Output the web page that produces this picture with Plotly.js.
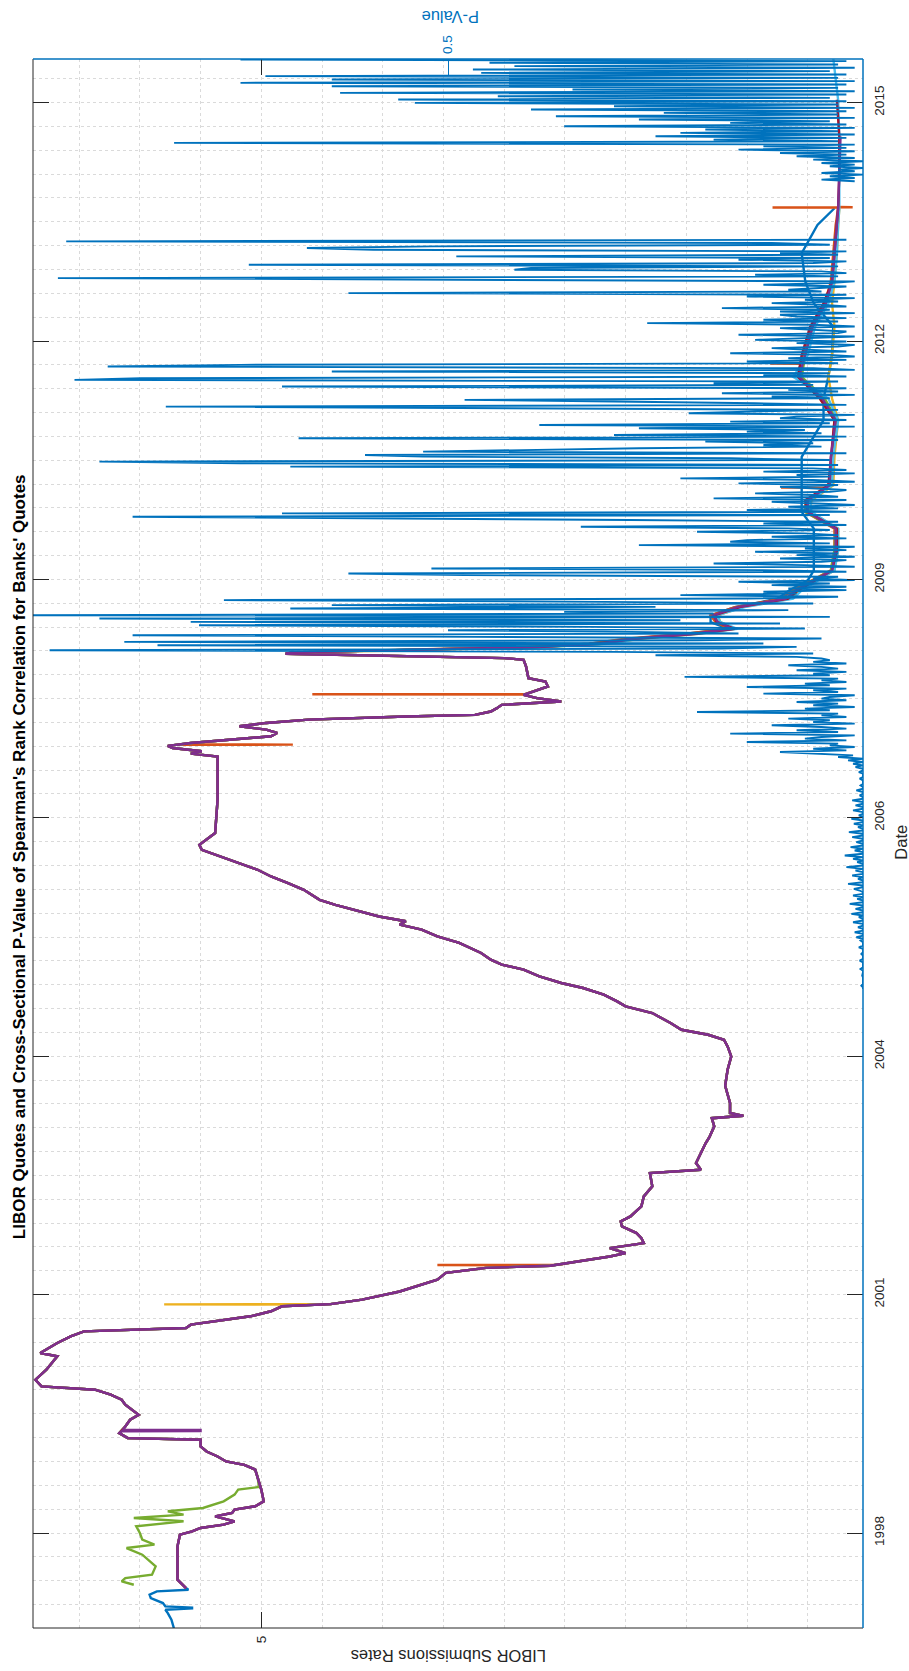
<!DOCTYPE html>
<html><head><meta charset="utf-8">
<script src="https://cdn.plot.ly/plotly-3.0.1.min.js"></script>
<style>html,body{margin:0;padding:0;background:#fff}#chart{width:909px;height:1671px}</style>
</head><body><div id="chart"></div>
<script>
// ---------------- DATA ----------------
const titleText = "LIBOR Quotes and Cross-Sectional P-Value of Spearman's Rank Correlation for Banks' Quotes";
const rateTickValues = [5];
const rateTickLabels = ['5'];
const pTickValues = [0.5];
const pTickLabels = ['0.5'];
const dateTickDatenums = [730000, 731000, 732000, 733000, 734000, 735000, 736000];
const dateTickLabels = ['1998', '2001', '2004', '2006', '2009', '2012', '2015'];
const dateRangeDatenums = [729601.5, 736183];
const rateRange = [6.88, 0.045];
const pRange = [1, 0];

// bank 1 (blue) first months
const blueEarlyDates = ['1997-07-30','1997-09-03','1997-10-01','1997-10-15','1997-10-21','1997-10-24','1997-10-29','1997-11-12','1997-12-03','1997-12-17','1997-12-31','1998-01-07'];
const blueEarlyRates = [5.72,5.74,5.77,5.79,5.57,5.57,5.79,5.81,5.91,5.92,5.86,5.60];

// bank 5 (green) deviating quotes 1998
const greenEarlyDates = ['1998-01-28','1998-02-11','1998-02-25','1998-03-11','1998-04-15','1998-05-13','1998-06-03','1998-07-01','1998-07-15','1998-08-05','1998-09-02','1998-09-30','1998-10-21','1998-11-04','1998-11-18','1998-12-02','1998-12-16','1999-01-13','1999-02-10','1999-03-03','1999-03-14'];
const greenEarlyRates = [6.05,6.15,6.12,5.90,5.87,5.93,5.98,6.11,5.88,5.98,6.00,6.03,5.64,6.05,5.64,5.77,5.48,5.31,5.22,5.19,5.02];

// common quotes 1998
const core1Dates = ['1998-01-14','1998-02-18','1998-04-15','1998-07-08','1998-08-26','1998-09-09','1998-09-23','1998-10-07','1998-10-21','1998-11-11','1998-11-25','1998-12-09','1998-12-23','1999-01-13','1999-03-03'];
const core1Rates = [5.62,5.69,5.69,5.69,5.67,5.57,5.50,5.31,5.22,5.38,5.24,5.22,5.05,4.98,5.00];

// common quotes 1999 - Oct 2008
const core2Dates = ['1999-04-27','1999-05-26','1999-06-15','1999-06-29','1999-07-20','1999-08-10','1999-08-31','1999-09-28','1999-10-05','1999-10-26','1999-11-23','1999-12-21',
'2000-01-11','2000-01-25','2000-02-22','2000-03-14','2000-04-04','2000-04-25','2000-05-09','2000-06-06','2000-07-18','2000-09-12','2000-09-26','2000-11-07','2000-12-05','2000-12-26',
'2001-01-09','2001-01-23','2001-02-06','2001-02-27','2001-03-20','2001-04-10','2001-04-19','2001-05-08','2001-06-11','2001-07-05','2001-07-31','2001-08-28','2001-09-18','2001-09-27','2001-10-15','2001-11-05','2001-11-19','2001-12-10','2001-12-31',
'2002-01-21','2002-02-11','2002-03-11','2002-04-01','2002-04-22','2002-06-03','2002-07-15','2002-08-26','2002-10-21','2002-11-04','2002-12-02',
'2003-01-13','2003-02-24','2003-03-20','2003-05-05','2003-06-08','2003-06-18','2003-06-30','2003-08-11','2003-10-22','2003-12-28',
'2004-02-22','2004-04-04','2004-05-02','2004-05-23','2004-06-13','2004-07-11','2004-08-22','2004-09-19','2004-10-10','2004-11-07','2004-12-05','2004-12-26',
'2005-01-23','2005-02-20','2005-03-13','2005-04-03','2005-05-01','2005-06-12','2005-07-10','2005-08-07','2005-08-28','2005-09-11','2005-10-01','2005-10-29','2005-11-19','2005-12-10',
'2006-01-21','2006-02-18','2006-03-18','2006-04-15','2006-05-13','2006-06-10','2006-07-08','2006-07-29','2006-08-19','2006-09-16',
'2007-02-03','2007-06-23','2007-08-03','2007-08-15','2007-08-25','2007-09-08','2007-09-17','2007-09-29','2007-10-13','2007-10-27','2007-11-10','2007-11-24','2007-12-08','2007-12-22',
'2008-01-05','2008-01-12','2008-01-18','2008-01-25','2008-02-08','2008-02-22','2008-03-07','2008-03-21','2008-04-04','2008-04-18','2008-05-23','2008-06-13','2008-06-27','2008-08-15','2008-09-12','2008-09-19','2008-09-29','2008-10-07','2008-10-13'];
const core2Rates = [5.03,5.05,5.14,5.29,5.36,5.45,5.50,5.50,6.10,6.17,6.12,6.08,
6.01,6.05,6.12,6.15,6.24,6.37,6.81,6.86,6.77,6.68,6.82,6.68,6.57,6.46,
5.62,5.58,5.40,5.09,4.92,4.83,4.43,4.17,3.86,3.72,3.55,3.48,3.15,2.62,2.40,2.13,2.00,2.13,1.85,
1.87,1.91,2.03,2.04,1.96,1.87,1.85,1.78,1.80,1.38,1.42,
1.38,1.34,1.31,1.27,1.29,1.03,1.14,1.14,1.18,1.16,
1.13,1.16,1.19,1.32,1.54,1.63,1.78,2.00,2.07,2.18,2.35,2.53,
2.71,2.84,3.02,3.11,3.19,3.37,3.55,3.68,3.86,3.81,4.03,4.25,4.39,4.52,
4.65,4.78,4.92,5.03,5.18,5.34,5.49,5.51,5.45,5.38,
5.36,5.36,5.36,5.58,5.49,5.73,5.77,5.58,5.22,4.92,4.87,4.96,5.18,4.96,
4.61,4.25,3.81,3.24,3.11,3.06,3.02,2.53,2.73,2.84,2.64,2.66,2.80,2.82,2.84,3.00,4.00,4.80,4.75];

// single-day outlying quotes
const purpleSpikeDates = ['1999-11-03','1999-11-04','1999-11-08','1999-11-09'];
const purpleSpikeRates = [6.15,5.50,5.50,6.14];
const yellowSpikeDates = ['2001-04-17','2001-04-18'];
const yellowSpikeRates = [4.80,5.80];
const orangeSpikeDates = ['2001-09-29','2001-09-30','2001-10-01','2007-09-21','2007-09-22','2007-09-23','2008-04-19','2008-04-20','2008-04-21','2010-09-03','2010-09-04','2010-09-05','2012-02-05','2012-02-06','2012-02-07','2013-11-21','2013-11-22','2013-11-23','2013-11-24'];
const orangeSpikeRates = [2.60,3.55,2.55,5.70,4.74,5.65,2.84,4.58,2.83,0.33,0.72,0.33,0.56,0.81,0.56,0.25,0.79,0.13,0.25];

// post-Lehman quotes, one array per bank
const postDates = ['2008-10-21','2008-11-04','2008-11-18','2008-12-09','2008-12-30','2009-01-20','2009-02-17','2009-03-17','2009-04-21','2009-05-26','2009-06-30','2009-08-11','2009-09-22','2009-12-15','2010-03-16','2010-05-25','2010-07-13','2010-09-14','2011-01-11','2011-06-14','2011-09-13','2011-12-13','2012-03-13','2012-07-10','2012-10-16','2013-01-15','2013-05-14','2013-09-10','2013-11-19','2014-04-15','2014-09-16','2015-02-17','2015-08-11'];
const postBlue      = [4.00,2.80,2.30,1.95,1.50,1.15,1.30,1.30,1.10,0.75,0.65,0.50,0.45,0.45,0.45,0.55,0.55,0.55,0.55,0.37,0.37,0.33,0.30,0.29,0.45,0.52,0.55,0.42,0.28,null,null,null,null];
const postOrange    = [4.10,2.90,2.30,2.00,1.50,1.15,1.26,1.30,1.10,0.72,0.62,0.46,0.31,0.28,0.28,0.52,0.52,0.33,0.30,0.28,0.40,0.58,0.54,0.47,0.36,0.31,0.29,0.27,0.25,null,null,null,null];
const postYellow    = [3.85,2.68,2.18,1.88,1.40,1.10,1.22,1.24,1.04,0.64,0.57,0.43,0.28,0.25,0.25,0.48,0.47,0.29,0.28,0.25,0.30,0.33,0.30,0.28,0.30,0.28,0.26,0.25,0.24,null,null,null,null];
const postPurple    = [3.95,2.75,2.20,1.95,1.45,1.12,1.24,1.28,1.08,0.68,0.60,0.45,0.30,0.27,0.27,0.50,0.50,0.32,0.31,0.27,0.38,0.57,0.52,0.46,0.35,0.30,0.28,0.26,0.25,0.24,0.23,null,null];
const postGreen     = [3.92,2.74,2.20,1.93,1.44,1.12,1.24,1.27,1.07,0.67,0.60,0.45,0.31,0.28,0.27,0.52,0.51,0.31,0.30,0.26,0.36,0.55,0.52,0.46,0.35,0.30,0.28,0.26,null,null,null,null,null];
const postLightBlue = [3.90,2.70,2.15,1.90,1.40,1.08,1.22,1.25,1.02,0.62,0.55,0.42,0.28,0.25,0.25,0.47,0.48,0.30,0.29,0.25,0.33,0.62,0.50,0.44,0.33,0.28,0.26,0.25,0.24,0.24,0.24,0.25,0.29];
const postDarkRed   = [3.95,2.72,2.25,1.92,1.42,1.10,1.25,1.27,1.06,0.66,0.58,0.44,0.30,0.26,0.26,0.50,0.52,0.33,0.31,0.28,0.40,0.58,0.55,0.48,0.37,0.30,0.28,0.26,0.25,0.24,0.24,0.26,null];

// cross-sectional p-value, weekly from pStart
const pStart = '2004-12-01';
const pStepDays = 7;
const pvA = [0,0,0.002,0,0,0,0,0,0.001,0,
0,0,0.003,0,0,0,0,0.004,0,0,
0,0.002,0,0,0,0.005,0,0,0,0.003,
0,0.008,0,0,0.01,0,0,0.006,0,0,
0.012,0,0,0.005,0,0.014,0,0,0.009,0,
0,0.016,0,0,0.007,0,0.012,0,0,0.004,
0.011,0,0,0.018,0,0,0.006,0,0.013,0,
0,0.009,0,0.02,0,0,0.007,0,0.012,0,
0.022,0,0,0.01,0,0.015,0,0,0.008,0,
0,0.013,0,0,0.017,0,0,0.006,0,0.011,
0,0,0.014,0,0.005,0,0,0.012,0,0,
0.009,0,0,0.013,0,0,0.004,0,0,0.008,
0,0,0.003,0,0,0,0.004,0,0,0,
0.005,0,0,0.009,0,0.012,0,0.018,0,0.03,
0.012,0.06];
const pvB = [0.10,0.02,0.06,0.01,0.04,0.03,0.14,0.02,0.07,0.05,
0.01,0.16,0.03,0.08,0.02,0.05,0.11,0.01,0.06,0.04,
0.09,0.02,0.05,0.03,0.20,0.04,0.07,0.01,0.06,0.03,
0.08,0.02,0.05,0.04,0.01,0.12,0.03,0.06,0.02,0.14,
0.04,0.07,0.02,0.05,0.03,0.215,0.04,0.06,0.02,0.08,
0.03,0.05,0.09,0.02,0.06,0.04,0.05,0.08];
const pvC = [0.25,0.06,0.30,0.98,0.17,0.08,0.85,0.12,0.89,0.20,
0.05,0.47,0.88,0.15,0.28,0.50,0.07,0.33,0.80,0.10,
0.81,0.22,0.92,0.04,1.0,0.18,0.36,0.09,0.69,0.25,
0.64,0.06,0.31,0.77,0.14,0.03,0.22,0.08,0.12,0.02];
const pvD = [0.09,0.02,0.11,0.04,0.15,0.01,0.06,0.03,0.48,0.62,
0.02,0.12,0.52,0.01,0.07,0.18,0.05,0.02,0.10,0.01,
0.08,0.03,0.13,0.02,0.07,0.01,0.27,0.04,0.16,0.14,
0.02,0.11,0.03,0.07,0.20,0.04,0.09,0.34,0.02,0.12,
0.03,0.28,0.56,0.88,0.04,0.70,0.02,0.14,0.03,0.09,
0.01,0.07,0.11,0.02,0.18,0.03,0.06,0.13,0.04,0.02,
0.07,0.10,0.03,0.15,0.01,0.06,0.22,0.04,0.08,0.01,
0.12,0.02,0.06,0.69,0.03,0.75,0.92,0.04,0.16,0.53,
0.60,0.02,0.53,0.42,0.27,0.05,0.12,0.06,0.19,0.03,
0.68,0.02,0.30,0.05,0.14,0.07,0.27,0.01,0.39,0.04,
0.16,0.02,0.10,0.08,0.01,0.21,0.14,0.03,0.49,0.84,
0.02,0.13,0.30,0.48,0.04,0.11,0.01,0.17,0.03,0.09,
0.02,0.70,0.06,0.18,0.03,0.95,0.87,0.02,0.12,0.04,
0.64,0.01,0.06,0.91,0.75,0.03,0.14,0.02,0.09,0.01,
0.04,0.16,0.02,0.06,0.11,0.03,0.01,0.08,0.02,0.13,
0.06,0.01,0.15,0.03,0.02,0.07,0.10,0.01,0.06,0.26,
0.03,0.12,0.02,0.08,0.10,0.01,0.10,0.04,0.17,0.02,
0.05,0.11,0.03,0.07,0.01,0.14,0.02,0.62,0.05,0.09,
0.06,0.02,0.12,0.04,0.01,0.61,0.97,0.03,0.13,0.02,
0.05,0.42,0.40,0.03,0.74,0.06,0.02,0.15,0.04,0.49,
0.03,0.10,0.02,0.59,0.67,0.52,0.04,0.11,0.96,0.02];
const pvE = [null,null,null,null,null,null,null,null,null,null,
null,null,null,null,null,null,null,null,null,null,
null,null,null,null,null,null,null,null,null,null,
null,null,null,null];
const pvF = [0.01,0.05,0.01,0.04,0.00,0.05,0.01,0.03,0.00,0.04,
0.01,0.05,0.00,0.06,0.01,0.08,0.02,0.10,0.01,0.15,
0.02,0.12,0.01,0.83,0.03,0.18,0.02,0.25,0.01,0.22,
0.03,0.19,0.01,0.36,0.02,0.16,0.04,0.27,0.01,0.37,
0.03,0.24,0.02,0.40,0.01,0.30,0.03,0.54,0.02,0.56,
0.04,0.44,0.02,0.63,0.01,0.35,0.03,0.64,0.02,0.75,
0.01,0.64,0.03,0.72,0.02,0.46,0.04,0.47,0.01,0.42,
0.03,0.45,0.02,0.75,0.03];

// ---------------- BUILD ----------------
const DAY = 864e5;
const DN0 = 730000, DN0_MS = Date.UTC(1998, 8, 2);
function dn2iso(n) { return new Date(DN0_MS + (n - DN0) * DAY).toISOString().replace('T', ' ').slice(0, 19); }

function combine(parts) {
  const pts = [];
  parts.forEach(([d, v]) => d.forEach((x, i) => { if (v[i] !== null && v[i] !== undefined) pts.push([x, v[i]]); }));
  pts.sort((a, b) => a[0] < b[0] ? -1 : a[0] > b[0] ? 1 : 0);
  return { x: pts.map(p => p[1]), y: pts.map(p => p[0]) };
}

const C = { blue: '#0072BD', orange: '#D95319', yellow: '#EDB120', purple: '#7E2F8E', green: '#77AC30', lightblue: '#4DBEEE', darkred: '#A2142F' };
const banks = [
  { c: C.blue, parts: [[blueEarlyDates, blueEarlyRates], [core1Dates, core1Rates], [core2Dates, core2Rates], [postDates, postBlue]] },
  { c: C.orange, parts: [[core1Dates, core1Rates], [core2Dates, core2Rates], [orangeSpikeDates, orangeSpikeRates], [postDates, postOrange]] },
  { c: C.yellow, parts: [[core1Dates, core1Rates], [core2Dates, core2Rates], [yellowSpikeDates, yellowSpikeRates], [postDates, postYellow]] },
  { c: C.green, parts: [[greenEarlyDates, greenEarlyRates], [core2Dates, core2Rates], [postDates, postGreen]] },
  { c: C.lightblue, parts: [[core1Dates, core1Rates], [core2Dates, core2Rates], [postDates, postLightBlue]] },
  { c: C.darkred, parts: [[core1Dates, core1Rates], [core2Dates, core2Rates], [postDates, postDarkRed]] },
  { c: C.purple, parts: [[core1Dates, core1Rates], [core2Dates, core2Rates], [purpleSpikeDates, purpleSpikeRates], [postDates, postPurple]] }
];

const traces = banks.map(b => {
  const s = combine(b.parts);
  return { type: 'scatter', mode: 'lines', x: s.x, y: s.y, xaxis: 'x', yaxis: 'y', line: { color: b.c, width: 2.4 }, hoverinfo: 'skip' };
});

const pValue = [].concat(pvA, pvB, pvC, pvD, pvE, pvF);
const p0 = Date.parse(pStart + 'T00:00:00Z');
const pDates = pValue.map((_, i) => new Date(p0 + i * pStepDays * DAY).toISOString().slice(0, 10));
traces.push({ type: 'scatter', mode: 'lines', x: pValue, y: pDates, xaxis: 'x2', yaxis: 'y', connectgaps: false, line: { color: C.blue, width: 1.9 }, hoverinfo: 'skip' });

const FONT = 'Liberation Sans, Arial, Helvetica, sans-serif';
const AXC = '#262626';
const GRID = '#dadada';
const plotL = 33, plotR = 863, plotT = 59.3, plotB = 1628.3;
const W = 909, H = 1671;
const px = x => (x - plotL) / (plotR - plotL);
const py = y => (plotB - y) / (plotB - plotT);

const layout = {
  width: W, height: H,
  margin: { l: plotL, r: W - plotR, t: plotT, b: H - plotB, pad: 0 },
  paper_bgcolor: '#ffffff', plot_bgcolor: '#ffffff',
  showlegend: false, hovermode: false,
  font: { family: FONT, size: 13.5, color: AXC },
  xaxis: {
    range: rateRange, tickmode: 'array', tickvals: rateTickValues, ticktext: rateTickLabels,
    tickangle: -90, ticks: 'inside', ticklen: 16, tickwidth: 1, tickcolor: AXC, mirror: 'ticks',
    showline: false, zeroline: false, showgrid: true, gridcolor: GRID, griddash: 'dot', gridwidth: 1,
    minor: { tick0: 0, dtick: 0.5, showgrid: true, gridcolor: GRID, griddash: 'dot', gridwidth: 1, ticks: '' },
    tickfont: { family: FONT, size: 13.5, color: AXC }, ticklabelstandoff: 4
  },
  xaxis2: {
    overlaying: 'x', side: 'top', range: pRange, tickmode: 'array', tickvals: pTickValues, ticktext: pTickLabels,
    tickangle: -90, ticks: 'inside', ticklen: 17, tickwidth: 1, tickcolor: C.blue,
    showline: false, zeroline: false, showgrid: false,
    tickfont: { family: FONT, size: 13.5, color: C.blue }, ticklabelstandoff: 4
  },
  yaxis: {
    type: 'date', range: dateRangeDatenums.map(dn2iso), side: 'right', tickmode: 'array',
    tickvals: dateTickDatenums.map(dn2iso), ticktext: dateTickLabels,
    tickangle: -90, ticks: 'inside', ticklen: 16, tickwidth: 1, tickcolor: AXC, mirror: 'ticks',
    showline: false, zeroline: false, showgrid: true, gridcolor: GRID, griddash: 'dot', gridwidth: 1,
    minor: { tick0: dn2iso(dateTickDatenums[0]), dtick: 100 * DAY, showgrid: true, gridcolor: GRID, griddash: 'dot', gridwidth: 1, ticks: '' },
    tickfont: { family: FONT, size: 13.5, color: AXC }, ticklabelstandoff: 6
  },
  shapes: [
    { type: 'line', xref: 'paper', yref: 'paper', x0: 0, x1: 0, y0: 0, y1: 1, line: { color: AXC, width: 1 }, layer: 'above' },
    { type: 'line', xref: 'paper', yref: 'paper', x0: 0, x1: 1, y0: 0, y1: 0, line: { color: AXC, width: 1 }, layer: 'above' },
    { type: 'line', xref: 'paper', yref: 'paper', x0: 0, x1: 1, y0: 1, y1: 1, line: { color: C.blue, width: 1.5 }, layer: 'above' },
    { type: 'line', xref: 'paper', yref: 'paper', x0: 1, x1: 1, y0: 0, y1: 1, line: { color: C.blue, width: 1.5 }, layer: 'above' }
  ],
  annotations: [
    { text: titleText, xref: 'paper', yref: 'paper', x: px(19.5), y: py(857), textangle: -90, showarrow: false,
      xanchor: 'center', yanchor: 'middle', font: { family: FONT, size: 17, color: '#000000', weight: 'bold' } },
    { text: 'Date', xref: 'paper', yref: 'paper', x: px(901), y: py(843), textangle: -90, showarrow: false,
      xanchor: 'center', yanchor: 'middle', font: { family: FONT, size: 16.5, color: AXC } },
    { text: 'LIBOR Submissions Rates', xref: 'paper', yref: 'paper', x: px(449), y: py(1657), textangle: 180, showarrow: false,
      xanchor: 'center', yanchor: 'middle', font: { family: FONT, size: 16.5, color: AXC } },
    { text: 'P-Value', xref: 'paper', yref: 'paper', x: px(451), y: py(17.5), textangle: 180, showarrow: false,
      xanchor: 'center', yanchor: 'middle', font: { family: FONT, size: 16.5, color: C.blue } }
  ]
};

Plotly.newPlot('chart', traces, layout, { staticPlot: true, displayModeBar: false });
</script></body></html>
